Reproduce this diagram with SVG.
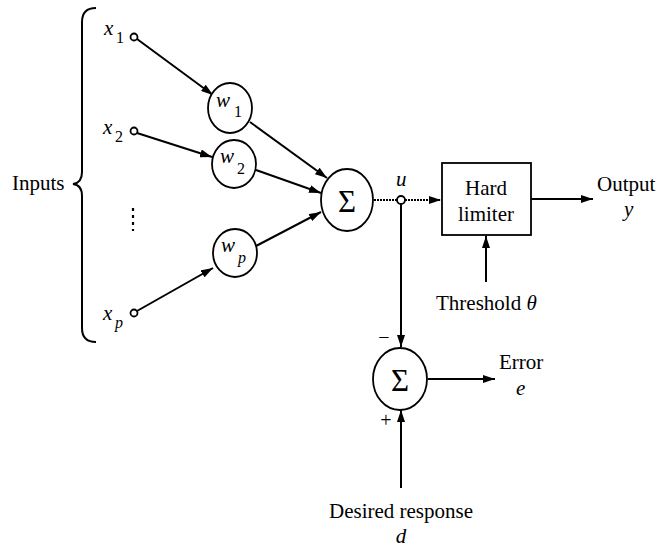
<svg xmlns="http://www.w3.org/2000/svg" width="660" height="547" viewBox="0 0 660 547">
<style>
text{font-family:"Liberation Serif","Times New Roman",serif;fill:#000}
.lbl{font-size:21px}
.it{font-style:italic}
.sub{font-size:16px}
.node{fill:#fff;stroke:#000;stroke-width:1.8}
.ln{fill:none;stroke:#000;stroke-width:2}
.dot{fill:none;stroke:#000;stroke-width:2;stroke-dasharray:2 1}
</style>
<defs>
<marker id="ah" viewBox="0 0 12 8" refX="12" refY="4" markerWidth="12" markerHeight="8" markerUnits="userSpaceOnUse" orient="auto">
<path d="M0,0 L12,4 L0,8 Z" fill="#000"/>
</marker>
</defs>
<rect width="660" height="547" fill="#fff"/>

<g id="inputs-brace">
<path class="ln" d="M96,8 Q82,8 82,22 L82,172 Q82,183 73,184 Q82,185 82,196 L82,328 Q82,342 96,342"/>
<text class="lbl" x="12" y="190">Inputs</text>
</g>

<g id="connectors">
<line class="ln" x1="137" y1="39" x2="213" y2="95" marker-end="url(#ah)"/>
<line class="ln" x1="137" y1="133" x2="212" y2="157" marker-end="url(#ah)"/>
<line class="ln" x1="137" y1="311" x2="213" y2="268" marker-end="url(#ah)"/>
<line class="ln" x1="250" y1="122" x2="327" y2="178" marker-end="url(#ah)"/>
<line class="ln" x1="256" y1="170" x2="321" y2="193" marker-end="url(#ah)"/>
<line class="ln" x1="256" y1="246" x2="321" y2="212" marker-end="url(#ah)"/>
<line class="dot" x1="374" y1="200" x2="397" y2="200"/>
<line class="dot" x1="405" y1="200" x2="441" y2="200" marker-end="url(#ah)"/>
<line class="ln" x1="531" y1="199" x2="593" y2="199" marker-end="url(#ah)"/>
<line class="ln" x1="486" y1="282" x2="486" y2="236" marker-end="url(#ah)"/>
<line class="ln" x1="401" y1="204" x2="401" y2="347" marker-end="url(#ah)"/>
<line class="ln" x1="428" y1="379" x2="495" y2="379" marker-end="url(#ah)"/>
<line class="ln" x1="401" y1="488" x2="401" y2="410" marker-end="url(#ah)"/>
</g>

<g id="x1">
<circle class="node" cx="134" cy="37" r="3.5"/>
<text class="lbl it" x="104" y="35">x</text><text class="sub" x="116" y="43">1</text>
</g>
<g id="x2">
<circle class="node" cx="134" cy="131" r="3.5"/>
<text class="lbl it" x="103" y="134">x</text><text class="sub" x="115" y="142">2</text>
</g>
<g id="dots">
<line x1="133" y1="208" x2="133" y2="231" stroke="#000" stroke-width="2.2" stroke-dasharray="3 4"/>
</g>
<g id="xp">
<circle class="node" cx="134" cy="313" r="3.5"/>
<text class="lbl it" x="103" y="320">x</text><text class="sub it" x="115" y="328">p</text>
</g>

<g id="w1">
<ellipse class="node" cx="230" cy="108" rx="22" ry="25"/>
<text class="lbl it" x="216" y="107">w</text><text class="sub" x="234" y="117">1</text>
</g>
<g id="w2">
<ellipse class="node" cx="234" cy="164" rx="22" ry="24"/>
<text class="lbl it" x="220" y="163">w</text><text class="sub" x="237" y="174">2</text>
</g>
<g id="wp">
<ellipse class="node" cx="235" cy="253" rx="22" ry="24"/>
<text class="lbl it" x="221" y="252">w</text><text class="sub it" x="238" y="263">p</text>
</g>

<g id="sum1">
<ellipse class="node" cx="347" cy="200" rx="26" ry="31"/>
<text x="347" y="212" font-size="31" text-anchor="middle">Σ</text>
</g>

<g id="junction">
<circle class="node" cx="401" cy="200" r="4"/>
<text class="lbl it" x="396" y="186">u</text>
</g>

<g id="hard-limiter">
<rect class="node" x="442" y="163" width="89" height="72"/>
<text class="lbl" x="486" y="195" text-anchor="middle">Hard</text>
<text class="lbl" x="486" y="221" text-anchor="middle">limiter</text>
</g>

<g id="output">
<text class="lbl" x="597" y="191">Output</text>
<text class="lbl it" x="624" y="216">y</text>
</g>

<g id="threshold">
<text class="lbl" x="436" y="310">Threshold <tspan class="it">θ</tspan></text>
</g>

<g id="sum2">
<ellipse class="node" cx="400" cy="379" rx="27" ry="31"/>
<text x="400" y="391" font-size="31" text-anchor="middle">Σ</text>
<text x="384" y="344" font-size="20" text-anchor="middle">−</text>
<text x="386" y="427" font-size="20" text-anchor="middle">+</text>
</g>

<g id="error">
<text class="lbl" x="499" y="369">Error</text>
<text class="lbl it" x="516" y="395">e</text>
</g>

<g id="desired">
<text class="lbl" x="401" y="518" text-anchor="middle">Desired response</text>
<text class="lbl it" x="401" y="543" text-anchor="middle">d</text>
</g>
</svg>
